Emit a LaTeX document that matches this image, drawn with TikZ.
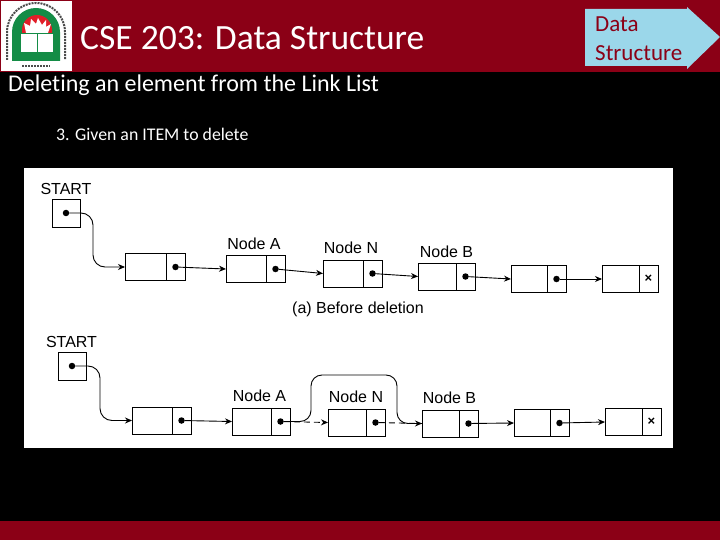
\documentclass[tikz,border=0pt]{standalone}
\usepackage{fontspec}
\setmainfont[Ligatures=NoCommon]{Carlito}
\newfontfamily\scanfont{Liberation Sans}
\usepackage{tikz}
\usetikzlibrary{arrows.meta,positioning}
\usepackage{xcolor}
\definecolor{bandred}{RGB}{139,0,22}
\definecolor{tagblue}{RGB}{155,215,234}
\definecolor{logogreen}{RGB}{20,140,70}
\definecolor{logored}{RGB}{225,30,40}

\begin{document}
\begin{tikzpicture}[
  x=1pt, y=-1pt, >=Stealth,
  datacell/.style={draw, line width=0.9pt, minimum height=27pt, inner sep=0pt, outer sep=0pt},
  linkcell/.style={draw, line width=0.9pt, minimum height=27pt, minimum width=19pt, inner sep=0pt, outer sep=0pt},
  startbox/.style={draw, line width=0.9pt, minimum size=28pt, inner sep=0pt, outer sep=0pt},
  dot/.style={circle, fill=black, minimum size=6.5pt, inner sep=0pt},
  ptr/.style={->, line width=0.9pt, >={Stealth[length=7pt,width=6pt]}},
  lbl/.style={font=\scanfont\fontsize{16}{18}\selectfont, inner sep=0pt},
  nilmark/.style={font=\scanfont\bfseries\fontsize{13}{13}\selectfont}]
% slide
\fill[black] (0,0) rectangle (720,540);
\useasboundingbox (0,0) rectangle (720,540);
\fill[bandred] (0,0) rectangle (720,72);
\fill[bandred] (0,521) rectangle (720,540);
% logo
\fill[white] (1,1) rectangle (72,71);
\fill[logogreen] (12,61) -- (12,32) arc[start angle=180, end angle=360, radius=24] -- (60,61) -- cycle;
\fill[logored] (22,33) -- (22,30) arc[start angle=180, end angle=360, radius=15] -- (52,33) -- cycle;
\fill[white] (26,33) -- (24,23) -- (30,26) -- (31,19) -- (36,24) -- (38,18) -- (42,25) -- (46,20) -- (46,27) -- (51,24) -- (48,33) -- cycle;
\fill[white] (21,34) rectangle (53,52);
\draw[logogreen] (37,34) -- (37,52);
\draw[black!70, line width=2pt, dash pattern=on 2pt off 1pt] (7,60) -- (7,32) arc[start angle=180, end angle=360, radius=29] -- (65,60);
\draw[black!70, line width=2pt, dash pattern=on 2pt off 1pt] (22,66) -- (50,66);
% headings
\node[anchor=west, white, inner sep=0pt, font=\fontsize{35.5}{40}\selectfont] (title) at (80,38) {CSE 203: Data Structure};
\node[anchor=west, white, inner sep=0pt, font=\fontsize{24}{28}\selectfont] (head) at (8,85) {Deleting an element from the Link List};
\node[anchor=west, white, inner sep=0pt, font=\fontsize{17.8}{21}\selectfont] (item) at (56,134) {3. Given an ITEM to delete};
% tag
\fill[tagblue] (585,9) -- (687,9) -- (687,7) -- (720,37) -- (687,69) -- (687,66) -- (585,66) -- cycle;
\node[anchor=west, bandred, inner sep=0pt, align=left, font=\fontsize{23}{29}\selectfont] (tag) at (595,39) {Data\\Structure};
% scan
\fill[white] (24,168) rectangle (673,448);
% (a) before
\node[lbl] (st1) at (66,189) {START};
\node[startbox] (s1) at (66.5,213.5) {};
\node[dot] (sd1) at (66,213) {};
\node[datacell, minimum width=41pt] (a1) at (145.5,267) {};
\node[linkcell, right=0pt of a1] (b1) {};
\node[dot] (d1) at (b1.center) {};
\node[datacell, minimum width=40pt] (a2) at (246,269) {};
\node[linkcell, right=0pt of a2] (b2) {};
\node[dot] (d2) at (b2.center) {};
\node[datacell, minimum width=40pt] (a3) at (343,273.5) {};
\node[linkcell, right=0pt of a3] (b3) {};
\node[dot] (d3) at (b3.center) {};
\node[datacell, minimum width=38pt] (a4) at (437,276.5) {};
\node[linkcell, right=0pt of a4] (b4) {};
\node[dot] (d4) at (b4.center) {};
\node[datacell, minimum width=36pt] (a5) at (529,279) {};
\node[linkcell, right=0pt of a5] (b5) {};
\node[dot] (d5) at (b5.center) {};
\node[datacell, minimum width=37pt] (a6) at (620.5,279) {};
\node[linkcell, right=0pt of a6, nilmark] (b6) {×};
\node[lbl] (la) at (254,244) {Node A};
\node[lbl] (ln) at (351,248) {Node N};
\node[lbl] (lb) at (446.5,252) {Node B};
\node[lbl] (cap) at (358,309) {(a) Before deletion};
\draw[ptr, rounded corners=12pt] (sd1) -| ([xshift=-32pt]a1.west) -- (a1.west);
\draw[ptr] (d1) -- (a2.west);
\draw[ptr] (d2) -- (a3.west);
\draw[ptr] (d3) -- (a4.west);
\draw[ptr] (d4) -- (a5.west);
\draw[ptr] (d5) -- (a6.west);
% (b) after
\node[lbl] (st2) at (71.5,342) {START};
\node[startbox] (s2) at (72.5,366.5) {};
\node[dot] (sd2) at (72,366) {};
\node[datacell, minimum width=40pt] (e1) at (152,420.5) {};
\node[linkcell, right=0pt of e1] (f1) {};
\node[dot] (g1) at (f1.center) {};
\node[datacell, minimum width=39pt] (e2) at (251.5,421.5) {};
\node[linkcell, right=0pt of e2] (f2) {};
\node[dot] (g2) at (f2.center) {};
\node[datacell, minimum width=38pt] (e3) at (347,422.5) {};
\node[linkcell, right=0pt of e3] (f3) {};
\node[dot] (g3) at (f3.center) {};
\node[datacell, minimum width=37pt] (e4) at (440.5,423.5) {};
\node[linkcell, right=0pt of e4] (f4) {};
\node[dot] (g4) at (f4.center) {};
\node[datacell, minimum width=36pt] (e5) at (532,423) {};
\node[linkcell, right=0pt of e5] (f5) {};
\node[dot] (g5) at (f5.center) {};
\node[datacell, minimum width=37pt] (e6) at (623.5,422) {};
\node[linkcell, right=0pt of e6, nilmark] (f6) {×};
\node[lbl] (lc) at (259.5,396) {Node A};
\node[lbl] (ld) at (356,397) {Node N};
\node[lbl] (le) at (449.5,398) {Node B};
\coordinate (upl) at (311,375);
\coordinate (upr) at (397,375);
\draw[ptr, rounded corners=11pt] (g2) -| (upl) -- (upr) |- (e4.west);
\draw[ptr, rounded corners=12pt] (sd2) -| ([xshift=-32pt]e1.west) -- (e1.west);
\draw[ptr] (g1) -- (e2.west);
\draw[ptr, dash pattern=on 6pt off 4pt] (g2) -- (e3.west);
\draw[line width=0.9pt, dash pattern=on 6pt off 4pt] (g3) -- (e4.west);
\draw[ptr] (g4) -- (e5.west);
\draw[ptr] (g5) -- (e6.west);
\end{tikzpicture}
\end{document}
